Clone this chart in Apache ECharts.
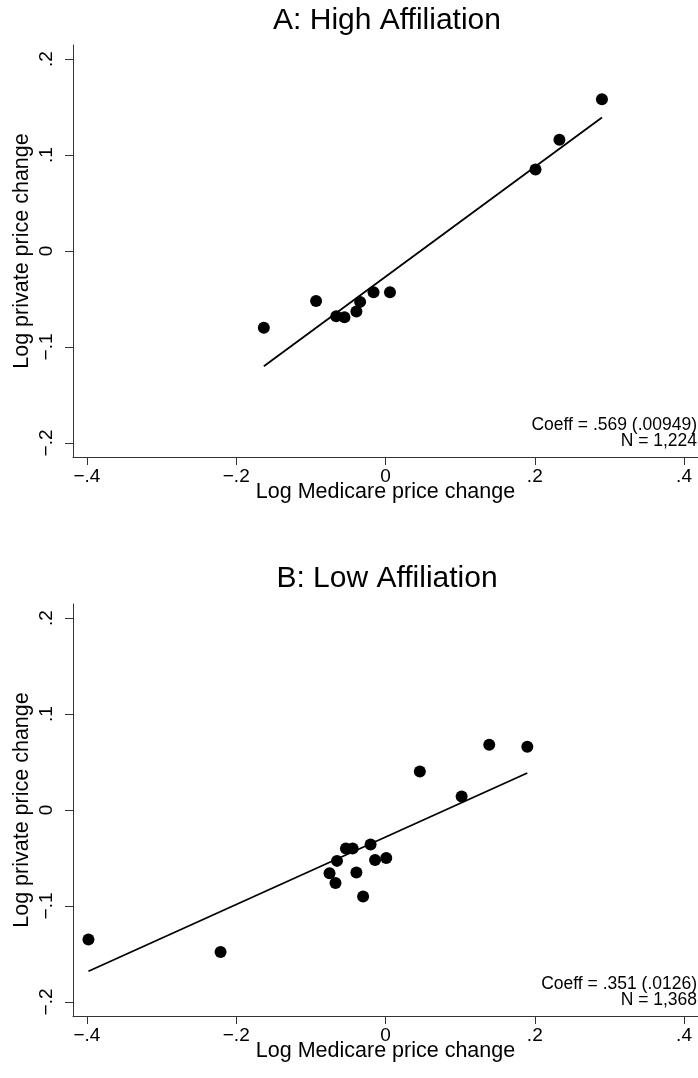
<!DOCTYPE html>
<html>
<head>
<meta charset="utf-8">
<script src="https://cdn.jsdelivr.net/npm/echarts@6/dist/echarts.min.js"></script>
<style>html,body{margin:0;padding:0;background:#fff;}#c{width:698px;height:1078px;}</style>
</head>
<body>
<div id="c"></div>
<script>
// ---- data ----
const xTicks = [-0.4, -0.2, 0, 0.2, 0.4];
const yTicks = [-0.2, -0.1, 0, 0.1, 0.2];
const titleA = 'A: High Affiliation';
const titleB = 'B: Low Affiliation';
const xName = 'Log Medicare price change';
const yName = 'Log private price change';
const pointsA = [
  [-0.163, -0.080], [-0.093, -0.052], [-0.066, -0.068], [-0.055, -0.069],
  [-0.034, -0.053], [-0.039, -0.063], [-0.016, -0.043], [0.006, -0.043],
  [0.201, 0.085], [0.233, 0.116], [0.290, 0.158]
];
const fitA = [[-0.163, -0.120], [0.290, 0.139]];
const noteA = 'Coeff = .569 (.00949)\nN = 1,224';
const pointsB = [
  [-0.398, -0.135], [-0.221, -0.148],
  [-0.053, -0.040], [-0.044, -0.040], [-0.020, -0.036], [-0.065, -0.053],
  [-0.014, -0.052], [0.001, -0.050], [-0.075, -0.066], [-0.039, -0.065],
  [-0.067, -0.076], [-0.030, -0.090],
  [0.046, 0.040], [0.102, 0.014], [0.139, 0.068], [0.190, 0.066]
];
const fitB = [[-0.398, -0.168], [0.190, 0.0385]];
const noteB = 'Coeff = .351 (.0126)\nN = 1,368';

// ---- chart ----
const FONT = '"Liberation Sans", Arial, Helvetica, sans-serif';
function fmt(v) {
  if (Math.abs(v) < 1e-9) return '0';
  const s = Math.abs(v).toFixed(1).replace(/^0/, '');
  return (v < 0 ? '\u2212' : '') + s;
}
const grids = [
  { left: 73, top: 45, width: 628, height: 412 },
  { left: 73, top: 604, width: 628, height: 412 }
];
function xAx(i) {
  return {
    gridIndex: i, type: 'value', min: -0.4187, max: 0.4187,
    name: xName, nameLocation: 'middle', nameGap: 24, nameMoveOverlap: false,
    nameTextStyle: { fontFamily: FONT, fontSize: 21.5, color: '#000' },
    axisLine: { show: true, onZero: false, lineStyle: { color: '#333', width: 1 } },
    axisTick: { show: true, length: 8, customValues: xTicks, lineStyle: { color: '#333' } },
    axisLabel: { customValues: xTicks, formatter: fmt, margin: 10,
      fontFamily: FONT, fontSize: 19, color: '#000' },
    splitLine: { show: false }
  };
}
function yAx(i) {
  return {
    gridIndex: i, type: 'value', min: -0.2146, max: 0.2146,
    name: yName, nameLocation: 'middle', nameGap: 40, nameMoveOverlap: false,
    nameTextStyle: { fontFamily: FONT, fontSize: 21.5, color: '#000' },
    axisLine: { show: true, onZero: false, lineStyle: { color: '#333', width: 1 } },
    axisTick: { show: true, length: 8, customValues: yTicks, lineStyle: { color: '#333' } },
    axisLabel: { customValues: yTicks, formatter: fmt, rotate: 90, margin: 17,
      fontFamily: FONT, fontSize: 19, color: '#000' },
    splitLine: { show: false }
  };
}
function scatter(i, data) {
  return { type: 'scatter', xAxisIndex: i, yAxisIndex: i, data: data,
    symbol: 'circle', symbolSize: 12, itemStyle: { color: '#000', opacity: 1 }, silent: true, z: 3 };
}
function fit(i, data) {
  return { type: 'line', xAxisIndex: i, yAxisIndex: i, data: data,
    showSymbol: false, lineStyle: { color: '#000', width: 1.8 }, silent: true, z: 2 };
}
const cx = grids[0].left + grids[0].width / 2;
const chart = echarts.init(document.getElementById('c'), null, { renderer: 'canvas' });
chart.setOption({
  animation: false,
  backgroundColor: '#fff',
  grid: grids,
  xAxis: [xAx(0), xAx(1)],
  yAxis: [yAx(0), yAx(1)],
  series: [scatter(0, pointsA), fit(0, fitA), scatter(1, pointsB), fit(1, fitB)],
  graphic: [
    { type: 'text', x: cx, y: 21, style: { text: titleA, align: 'center', verticalAlign: 'middle',
      font: '30px ' + FONT, fill: '#000' } },
    { type: 'text', x: cx, y: 579, style: { text: titleB, align: 'center', verticalAlign: 'middle',
      font: '30px ' + FONT, fill: '#000' } },
    { type: 'text', x: 697, y: 433, style: { text: noteA, align: 'right', verticalAlign: 'middle',
      font: '17.5px ' + FONT, lineHeight: 16, fill: '#000' } },
    { type: 'text', x: 697, y: 992, style: { text: noteB, align: 'right', verticalAlign: 'middle',
      font: '17.5px ' + FONT, lineHeight: 16, fill: '#000' } }
  ]
});
</script>
</body>
</html>
